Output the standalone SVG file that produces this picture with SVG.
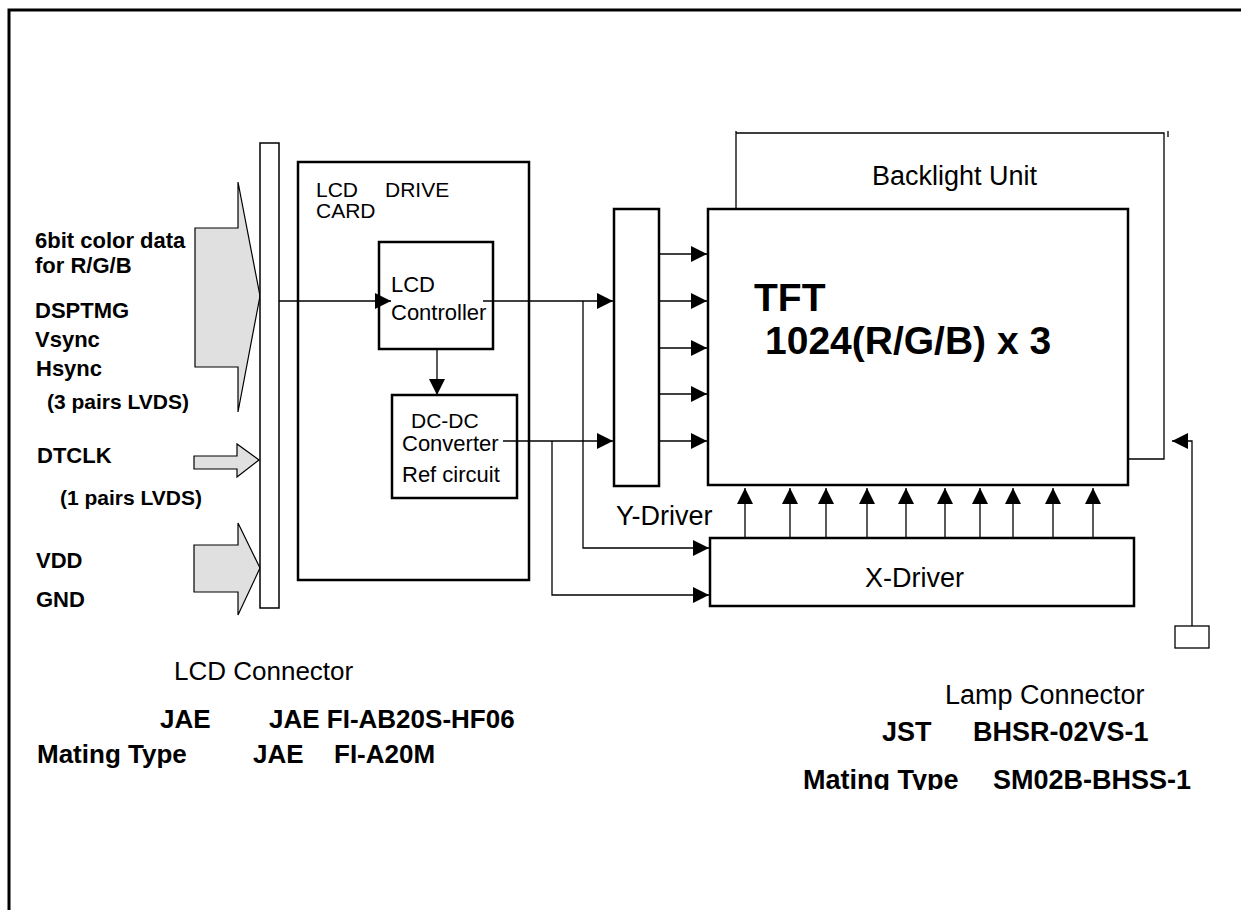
<svg xmlns="http://www.w3.org/2000/svg" width="1241" height="910" viewBox="0 0 1241 910">
<style>
  .box{fill:#fff;stroke:#000;stroke-width:2.5}
  .thin{fill:none;stroke:#000;stroke-width:1.3}
  .big{fill:#e0e0e0;stroke:#000;stroke-width:1.2}
  .t{font-family:"Liberation Sans",Arial,sans-serif;fill:#000}
  .b{font-weight:bold}
  .conn{fill:none;stroke:#000;stroke-width:1.3}
</style>
<defs>
  <marker id="ah" markerUnits="userSpaceOnUse" markerWidth="16" markerHeight="16" refX="16" refY="8" orient="auto">
    <path d="M0,0 L16,8 L0,16 z" fill="#000"/>
  </marker>
  <clipPath id="cut"><rect x="0" y="0" width="1241" height="790"/></clipPath>
</defs>
<rect width="1241" height="910" fill="#fff"/>
<g id="frame"><path d="M9,910 V10 H1241" fill="none" stroke="#000" stroke-width="3"/></g>

<g id="inputs">
  <polygon class="big" points="195,228 238,228 238,182 260,296 238,412 238,367 195,367"/>
  <polygon class="big" points="194,456 237,456 237,444 259,460 237,477 237,469 194,469"/>
  <polygon class="big" points="194,545 238,545 238,523 260,568 238,615 238,592 194,592"/>
  <g class="t b" font-size="22">
    <text x="35" y="248">6bit color data</text>
    <text x="35" y="273">for R/G/B</text>
    <text x="35" y="318">DSPTMG</text>
    <text x="35" y="347">Vsync</text>
    <text x="36" y="376">Hsync</text>
    <text x="47" y="409" font-size="21">(3 pairs LVDS)</text>
    <text x="37" y="463">DTCLK</text>
    <text x="60" y="505" font-size="21">(1 pairs LVDS)</text>
    <text x="36" y="568">VDD</text>
    <text x="36" y="607">GND</text>
  </g>
</g>

<g id="lcd-connector"><rect x="260" y="143" width="19" height="465" fill="#fff" stroke="#000" stroke-width="1.5"/></g>

<g id="drive-card">
  <rect class="box" x="298" y="162" width="231" height="418"/>
  <text class="t" font-size="21" x="316" y="197">LCD</text>
  <text class="t" font-size="21" x="385" y="197">DRIVE</text>
  <text class="t" font-size="21" x="316" y="218">CARD</text>
</g>

<g id="controller">
  <rect class="box" x="379" y="242" width="114" height="107"/>
  <text class="t" font-size="22" x="391" y="292">LCD</text>
  <text class="t" font-size="22" x="391" y="320">Controller</text>
</g>

<g id="dcdc">
  <rect class="box" x="392" y="395" width="125" height="103"/>
  <text class="t" font-size="21" x="411" y="428">DC-DC</text>
  <text class="t" font-size="22" x="402" y="451">Converter</text>
  <text class="t" font-size="22" x="402" y="482">Ref circuit</text>
</g>

<g id="y-driver">
  <rect class="box" x="614" y="209" width="45" height="277"/>
  <text class="t" font-size="27" x="616" y="525">Y-Driver</text>
</g>

<g id="backlight">
  <path class="thin" d="M736,209 V131 M736,133 H1164 V459 H1128 M1168,131 V137"/>
  <text class="t" font-size="27" x="872" y="185">Backlight Unit</text>
</g>

<g id="tft">
  <rect class="box" x="708" y="209" width="420" height="276"/>
  <text class="t b" font-size="39" x="754" y="311">TFT</text>
  <text class="t b" font-size="39" x="765" y="354">1024(R/G/B) x 3</text>
</g>

<g id="x-driver">
  <rect class="box" x="710" y="538" width="424" height="68"/>
  <text class="t" font-size="27" x="865" y="587">X-Driver</text>
</g>

<g id="lamp">
  <rect x="1175" y="626" width="34" height="22" fill="#fff" stroke="#000" stroke-width="1.3"/>
</g>

<g id="connectors">
  <path class="conn" d="M279,301 H391" marker-end="url(#ah)"/>
  <path class="conn" d="M437,349 V395" marker-end="url(#ah)"/>
  <path class="conn" d="M483,301 H613" marker-end="url(#ah)"/>
  <path class="conn" d="M503,441 H613" marker-end="url(#ah)"/>
  <path class="conn" d="M583,301 V548 H709" marker-end="url(#ah)"/>
  <path class="conn" d="M552,441 V595 H709" marker-end="url(#ah)"/>
  <path class="conn" d="M660,254 H707" marker-end="url(#ah)"/>
  <path class="conn" d="M660,301 H707" marker-end="url(#ah)"/>
  <path class="conn" d="M660,348 H707" marker-end="url(#ah)"/>
  <path class="conn" d="M660,394 H707" marker-end="url(#ah)"/>
  <path class="conn" d="M660,441 H707" marker-end="url(#ah)"/>
  <path class="conn" d="M745,538 V488" marker-end="url(#ah)"/>
  <path class="conn" d="M790,538 V488" marker-end="url(#ah)"/>
  <path class="conn" d="M826,538 V488" marker-end="url(#ah)"/>
  <path class="conn" d="M867,538 V488" marker-end="url(#ah)"/>
  <path class="conn" d="M906,538 V488" marker-end="url(#ah)"/>
  <path class="conn" d="M945,538 V488" marker-end="url(#ah)"/>
  <path class="conn" d="M980,538 V488" marker-end="url(#ah)"/>
  <path class="conn" d="M1013,538 V488" marker-end="url(#ah)"/>
  <path class="conn" d="M1053,538 V488" marker-end="url(#ah)"/>
  <path class="conn" d="M1093,538 V488" marker-end="url(#ah)"/>
  <path class="conn" d="M1192,626 V441 H1172" marker-end="url(#ah)"/>
</g>

<g id="labels">
  <text class="t" font-size="26" x="174" y="680">LCD Connector</text>
  <text class="t b" font-size="26" x="160" y="728">JAE</text>
  <text class="t b" font-size="26" x="269" y="728">JAE FI-AB20S-HF06</text>
  <text class="t b" font-size="26" x="37" y="763">Mating Type</text>
  <text class="t b" font-size="26" x="253" y="763">JAE</text>
  <text class="t b" font-size="26" x="334" y="763">FI-A20M</text>
  <text class="t" font-size="27" x="945" y="704">Lamp Connector</text>
  <text class="t b" font-size="27" x="882" y="741">JST</text>
  <text class="t b" font-size="27" x="973" y="741">BHSR-02VS-1</text>
  <g clip-path="url(#cut)">
    <text class="t b" font-size="27" x="803" y="789">Mating Type</text>
    <text class="t b" font-size="27" x="993" y="789">SM02B-BHSS-1</text>
  </g>
</g>
</svg>
